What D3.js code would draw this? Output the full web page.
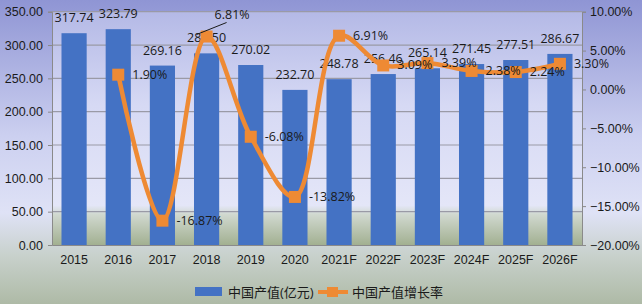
<!DOCTYPE html>
<html>
<head>
<meta charset="utf-8">
<script src="https://cdn.jsdelivr.net/npm/d3@7"></script>
<style>
  body { margin: 0; }
  svg { display: block; font-family: "Open Sans", "Noto Sans CJK SC", sans-serif; }
</style>
</head>
<body>
<div id="chart"></div>
<script>
// data
const years = ["2015", "2016", "2017", "2018", "2019", "2020", "2021F", "2022F", "2023F", "2024F", "2025F", "2026F"];
const output = [317.74, 323.79, 269.16, 287.50, 270.02, 232.70, 248.78, 256.46, 265.14, 271.45, 277.51, 286.67];
const growth = [null, 1.90, -16.87, 6.81, -6.08, -13.82, 6.91, 3.09, 3.39, 2.38, 2.24, 3.30];
const leftTicks = [0, 50, 100, 150, 200, 250, 300, 350];
const rightTicks = [-20, -15, -10, -5, 0, 5, 10];
const legendNames = ["中国产值(亿元)", "中国产值增长率"];

const width = 642, height = 304;
const margin = { top: 11.7, right: 60, bottom: 59, left: 52 };
const innerW = width - margin.left - margin.right;
const innerH = height - margin.top - margin.bottom;

const svg = d3.select("#chart").append("svg")
    .attr("width", width)
    .attr("height", height);

// background gradients
const defs = svg.append("defs");
const bg = defs.append("linearGradient").attr("id", "bg").attr("x1", 0).attr("y1", 0).attr("x2", 0).attr("y2", 1);
bg.append("stop").attr("offset", "0%").attr("stop-color", "#8f95d4");
bg.append("stop").attr("offset", "45%").attr("stop-color", "#ccd0f0");
bg.append("stop").attr("offset", "70%").attr("stop-color", "#dfe2f6");
bg.append("stop").attr("offset", "84%").attr("stop-color", "#c8d1cc");
bg.append("stop").attr("offset", "100%").attr("stop-color", "#aebaa6");

const pg = defs.append("linearGradient").attr("id", "pg").attr("x1", 0).attr("y1", 0).attr("x2", 0).attr("y2", 1);
pg.append("stop").attr("offset", "0%").attr("stop-color", "#b4b9e6");
pg.append("stop").attr("offset", "40%").attr("stop-color", "#d6d9f4");
pg.append("stop").attr("offset", "83%").attr("stop-color", "#e4e6f8");
pg.append("stop").attr("offset", "87%").attr("stop-color", "#d0d8cf");
pg.append("stop").attr("offset", "100%").attr("stop-color", "#a2b091");

svg.append("rect").attr("width", width).attr("height", height).attr("fill", "url(#bg)");

const g = svg.append("g").attr("transform", `translate(${margin.left},${margin.top})`);

g.append("rect").attr("width", innerW).attr("height", innerH).attr("fill", "url(#pg)");

const x = d3.scaleBand().domain(years).range([0, innerW]).paddingInner(0.43).paddingOuter(0.215);
const yL = d3.scaleLinear().domain([0, 350]).range([innerH, 0]);
const yR = d3.scaleLinear().domain([-20, 10]).range([innerH, 0]);

// gridlines
g.selectAll(".grid")
    .data(leftTicks.slice(1))
    .enter()
    .append("line")
    .attr("x1", 0).attr("x2", innerW)
    .attr("y1", d => yL(d)).attr("y2", d => yL(d))
    .attr("stroke", "#9a9aa6")
    .attr("stroke-width", 1.2);

// left axis
const axL = g.append("g")
    .call(d3.axisLeft(yL).tickValues(leftTicks).tickFormat(d3.format(".2f")).tickSize(4).tickPadding(5));
axL.select(".domain").attr("stroke", "#8a8a8a");
axL.selectAll(".tick line").attr("stroke", "#8a8a8a");
axL.selectAll("text").attr("fill", "#1a1a1a").style("font-size", "12.5px");

// right axis
const axR = g.append("g")
    .attr("transform", `translate(${innerW},0)`)
    .call(d3.axisRight(yR).tickValues(rightTicks).tickFormat(d => d3.format(".2f")(d) + "%").tickSize(4).tickPadding(4));
axR.select(".domain").attr("stroke", "#8a8a8a");
axR.selectAll(".tick line").attr("stroke", "#8a8a8a");
axR.selectAll("text").attr("fill", "#1a1a1a").style("font-size", "12.5px");

// bottom axis
const axB = g.append("g")
    .attr("transform", `translate(0,${innerH})`)
    .call(d3.axisBottom(x).tickSize(0).tickPadding(10));
axB.select(".domain").attr("stroke", "#8a8a8a");
axB.selectAll("text").attr("fill", "#1a1a1a").style("font-size", "12.5px");

// bars
g.selectAll(".bar")
    .data(years)
    .enter()
    .append("rect")
    .attr("class", "bar")
    .attr("x", d => x(d))
    .attr("y", (d, i) => yL(output[i]))
    .attr("width", x.bandwidth())
    .attr("height", (d, i) => innerH - yL(output[i]))
    .attr("fill", "#4472c4");

// bar labels
g.selectAll(".barlabel")
    .data(years)
    .enter()
    .append("text")
    .attr("class", "barlabel")
    .attr("x", d => x(d) + x.bandwidth() / 2)
    .attr("y", (d, i) => yL(output[i]) - 11)
    .attr("text-anchor", "middle")
    .attr("fill", "#1a1a1a")
    .style("font-size", "12.5px")
    .text((d, i) => output[i].toFixed(2));

// growth line
const pts = years.map((d, i) => ({ year: d, v: growth[i] })).filter(d => d.v !== null);
const cx = d => x(d.year) + x.bandwidth() / 2;

const line = d3.line()
    .x(cx)
    .y(d => yR(d.v))
    .curve(d3.curveCatmullRom.alpha(0.5));

g.append("path")
    .datum(pts)
    .attr("d", line)
    .attr("fill", "none")
    .attr("stroke", "#ee8a34")
    .attr("stroke-width", 4.5);

g.selectAll(".marker")
    .data(pts)
    .enter()
    .append("rect")
    .attr("class", "marker")
    .attr("x", d => cx(d) - 6)
    .attr("y", d => yR(d.v) - 6)
    .attr("width", 12)
    .attr("height", 12)
    .attr("fill", "#ee8a34");

// growth labels
g.selectAll(".linelabel")
    .data(pts)
    .enter()
    .append("text")
    .attr("class", "linelabel")
    .attr("x", d => d.year === "2018" ? cx(d) + 8 : cx(d) + 14)
    .attr("y", d => d.year === "2018" ? yR(d.v) - 18 : yR(d.v) + 4)
    .attr("fill", "#1a1a1a")
    .style("font-size", "12.5px")
    .text(d => d.v.toFixed(2) + "%");

// leader line for 2018 label
const p18 = pts.find(d => d.year === "2018");
g.append("line")
    .attr("x1", cx(p18) - 10).attr("y1", yR(p18.v) - 2)
    .attr("x2", cx(p18) + 20).attr("y2", yR(p18.v) - 14)
    .attr("stroke", "#1a1a1a")
    .attr("stroke-width", 1);

// legend
const legend = svg.append("g").attr("transform", "translate(195,292)");
legend.append("rect").attr("x", 0).attr("y", -5).attr("width", 27).attr("height", 9).attr("fill", "#4472c4");
legend.append("text").attr("x", 33).attr("y", 5).attr("fill", "#1a1a1a").style("font-size", "13px").text(legendNames[0]);
legend.append("line").attr("x1", 123).attr("x2", 153).attr("y1", 0).attr("y2", 0).attr("stroke", "#ee8a34").attr("stroke-width", 4);
legend.append("rect").attr("x", 132).attr("y", -5).attr("width", 11).attr("height", 10).attr("fill", "#ee8a34");
legend.append("text").attr("x", 157).attr("y", 5).attr("fill", "#1a1a1a").style("font-size", "13px").text(legendNames[1]);
</script>
</body>
</html>
